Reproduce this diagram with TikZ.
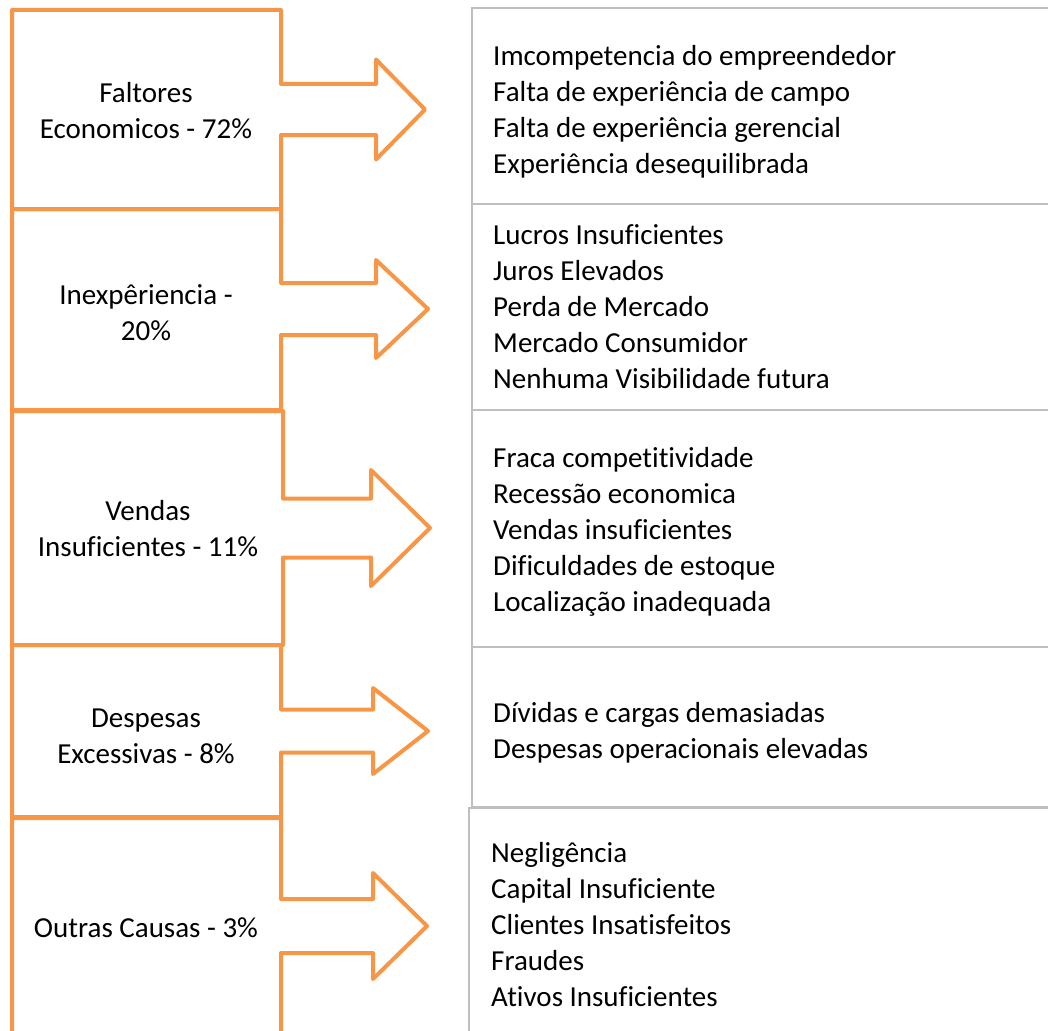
\documentclass[tikz,border=0pt]{standalone}
\usepackage{fontspec}
\setmainfont{Carlito}[Ligatures=NoCommon]
\usepackage{tikz}
\usetikzlibrary{calc}
\definecolor{laranja}{RGB}{247,150,70}
\definecolor{cinza}{RGB}{191,191,191}
\tikzstyle{causas}=[
    x=1pt,y=-1pt,
    every node/.style={
        font=\fontsize{29}{36}\selectfont,
        inner sep=0pt,
    },
]
\tikzstyle{caixa}=[draw=laranja, line width=4pt, line join=round]
\tikzstyle{grade}=[draw=cinza, line width=2pt]
\tikzstyle{rotulo}=[align=center]
\tikzstyle{lista}=[align=left, anchor=west]
% #1 topo, #2 base, #3 borda direita, #4 meio da seta,
% #5 meia largura da haste, #6 meia altura da ponta, #7 inicio da ponta, #8 bico
\newcommand{\caixaseta}[8]{%
    \draw[caixa] (12,#1) -- (#3,#1) -- (#3,#4-#5) -- (#7,#4-#5) -- (#7,#4-#6)
        -- (#8,#4) -- (#7,#4+#6) -- (#7,#4+#5) -- (#3,#4+#5) -- (#3,#2)
        -- (12,#2) -- cycle;}

\begin{document}
\begin{tikzpicture}[causas]
    \useasboundingbox (0,0) rectangle (1048,1030);
    \clip (0,0) rectangle (1048,1030);

    % caixas da direita
    \draw[grade] (472,8) rectangle (1060,204);
    \draw[grade] (472,204) rectangle (1060,410);
    \draw[grade] (472,410) rectangle (1060,647);
    \draw[grade] (472,647) rectangle (1060,807);
    \draw[grade] (469,808) rectangle (1060,1045);

    % caixas com seta
    \caixaseta{10}{209}{281}{109.5}{25.5}{50}{376}{425}
    \caixaseta{209}{410}{281}{309}{26}{49}{376}{428}
    \caixaseta{411}{645}{283}{528}{29.5}{58}{371}{430}
    \caixaseta{645}{817}{281}{731}{21.5}{43}{373}{428}
    \caixaseta{818}{1045}{281}{926}{27}{53}{373}{427}

    \node[rotulo] (fe) at (146,111) {Faltores\\Economicos - 72\%};
    \node[rotulo] (ie) at (146,313) {Inexpêriencia -\\20\%};
    \node[rotulo] (vi) at (148,529) {Vendas\\Insuficientes - 11\%};
    \node[rotulo] (de) at (146,736) {Despesas\\Excessivas - 8\%};
    \node[rotulo] (oc) at (146,928) {Outras Causas - 3\%};

    \node[lista] (l1) at (493,112) {Imcompetencia do empreendedor\\Falta de experiência de campo\\Falta de experiência gerencial\\Experiência desequilibrada};
    \node[lista] (l2) at (493,307) {Lucros Insuficientes\\Juros Elevados\\Perda de Mercado\\Mercado Consumidor\\Nenhuma Visibilidade futura};
    \node[lista] (l3) at (493,532) {Fraca competitividade\\Recessão economica\\Vendas insuficientes\\Dificuldades de estoque\\Localização inadequada};
    \node[lista] (l4) at (493,733) {Dívidas e cargas demasiadas\\Despesas operacionais elevadas};
    \node[lista] (l5) at (491,925) {Negligência\\Capital Insuficiente\\Clientes Insatisfeitos\\Fraudes\\Ativos Insuficientes};
\end{tikzpicture}
\end{document}
